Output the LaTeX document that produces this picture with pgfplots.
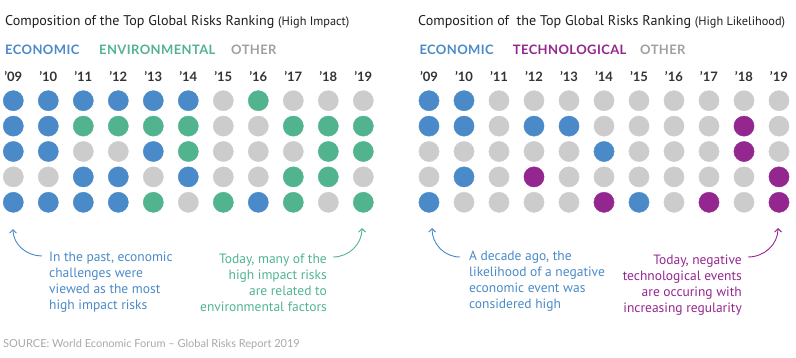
\documentclass[border=0pt]{standalone}
\usepackage{pgfplots}
\pgfplotsset{compat=1.18}
\usetikzlibrary{arrows.meta}
\usepackage{fontspec}
\setmainfont{Lato}
\newfontfamily\annfont{PT Sans}
\definecolor{econ}{HTML}{4A8AC9}
\definecolor{envi}{HTML}{52B48E}
\definecolor{tech}{HTML}{93278F}
\definecolor{othr}{HTML}{CCCCCC}
\definecolor{othtxt}{HTML}{A0A0A0}
\definecolor{srctxt}{HTML}{A8A8A8}
\definecolor{ttl}{HTML}{1E1E1E}
\definecolor{yrs}{HTML}{333333}
\pgfplotsset{
  dotgrid/.style={
    scale only axis, width=376.6pt, height=127pt,
    xmin=2008.62, xmax=2019.38, ymin=0.5, ymax=5.5, y dir=reverse,
    clip=false, axis line style={draw=none}, major tick length=0pt,
    ymajorticks=false, xtick pos=upper, xticklabel pos=upper,
    xtick={2009,...,2019},
    xticklabels={’09,’10,’11,’12,’13,’14,’15,’16,’17,’18,’19},
    xticklabel style={anchor=base, inner sep=0pt, yshift=7pt,
      font=\fontsize{13}{13}\selectfont\bfseries, text=yrs},
  },
  dots/.style={only marks, mark=*, mark size=10.1pt, color=#1, mark options={draw=none, fill=#1}},
}
\begin{document}
\begin{tikzpicture}[x=1pt,y=1pt]
\path[use as bounding box] (0,0) rectangle (796,357);
% ---------- left grid (High Impact)
\begin{axis}[dotgrid, at={(0pt,142pt)}, anchor=south west]
\addplot[dots=econ] coordinates {
 (2009,1) (2009,2) (2009,3) (2009,5)
 (2010,1) (2010,2) (2010,3) (2010,5)
 (2011,1) (2011,4) (2011,5)
 (2012,1) (2012,4) (2012,5)
 (2013,1) (2013,3)
 (2014,1) (2014,4)
 (2016,5)};
\addplot[dots=envi] coordinates {
 (2011,2) (2012,2) (2013,2) (2013,5) (2014,2) (2014,3) (2015,5) (2016,1)
 (2017,2) (2017,4) (2017,5) (2018,2) (2018,3) (2018,4) (2019,2) (2019,3) (2019,5)};
\addplot[dots=othr] coordinates {
 (2009,4) (2010,4) (2011,3) (2012,3) (2013,4) (2014,5)
 (2015,1) (2015,2) (2015,3) (2015,4)
 (2016,2) (2016,3) (2016,4)
 (2017,1) (2017,3) (2018,1) (2018,5) (2019,1) (2019,4)};
\end{axis}
% ---------- right grid (High Likelihood)
\begin{axis}[dotgrid, at={(415.7pt,142pt)}, anchor=south west]
\addplot[dots=econ] coordinates {
 (2009,1) (2009,2) (2009,5)
 (2010,1) (2010,2) (2010,4)
 (2012,2) (2013,2) (2014,3) (2015,5)};
\addplot[dots=tech] coordinates {
 (2012,4) (2014,5) (2017,5) (2018,2) (2018,3) (2019,4) (2019,5)};
\addplot[dots=othr] coordinates {
 (2009,3) (2009,4) (2010,3) (2010,5)
 (2011,1) (2011,2) (2011,3) (2011,4) (2011,5)
 (2012,1) (2012,3) (2012,5)
 (2013,1) (2013,3) (2013,4) (2013,5)
 (2014,1) (2014,2) (2014,4)
 (2015,1) (2015,2) (2015,3) (2015,4)
 (2016,1) (2016,2) (2016,3) (2016,4) (2016,5)
 (2017,1) (2017,2) (2017,3) (2017,4)
 (2018,1) (2018,4) (2018,5)
 (2019,1) (2019,2) (2019,3)};
\end{axis}
% ---------- titles
\node[anchor=base west, inner sep=0pt, text=ttl] at (5,331.3)
  {\annfont\fontsize{14.1}{14.1}\selectfont Composition of the Top Global Risks Ranking {\fontsize{12.3}{12.3}\selectfont(High Impact)}};
\node[anchor=base west, inner sep=0pt, text=ttl] at (418,331.3)
  {\annfont\fontsize{14.1}{14.1}\selectfont Composition of\ \ the Top Global Risks Ranking {\fontsize{12.3}{12.3}\selectfont(High Likelihood)}};
% ---------- legends
\begingroup
\def\lg#1#2#3{\node[anchor=base west, inner sep=0pt, text=#3] at (#1,302.7)
  {\fontsize{13}{13}\selectfont\bfseries\addfontfeature{LetterSpace=3}#2};}
\lg{5}{ECONOMIC}{econ}
\lg{99}{ENVIRONMENTAL}{envi}
\lg{231}{OTHER}{othtxt}
\lg{419.3}{ECONOMIC}{econ}
\lg{512.7}{TECHNOLOGICAL}{tech}
\lg{640}{OTHER}{othtxt}
\endgroup
% ---------- annotations
\begingroup
\def\al#1#2#3#4{\node[anchor=base west, inner sep=0pt, text=#3] at (#1,#2)
  {\annfont\fontsize{13.5}{13.5}\selectfont #4};}
\def\ar#1#2#3#4{\node[anchor=base east, inner sep=0pt, text=#3] at (#1,#2)
  {\annfont\fontsize{13.5}{13.5}\selectfont #4};}
\al{49}{96}{econ}{In the past, economic}
\al{49}{80}{econ}{challenges were}
\al{49}{64}{econ}{viewed as the most}
\al{49}{48}{econ}{high impact risks}
\ar{327}{93.7}{envi}{Today, many of the}
\ar{327}{77.7}{envi}{high impact risks}
\ar{327}{61.7}{envi}{are related to}
\ar{327}{45.7}{envi}{environmental factors}
\al{469}{96.3}{econ}{A decade ago, the}
\al{469}{80.3}{econ}{likelihood of a negative}
\al{469}{64.3}{econ}{economic event was}
\al{469}{48.3}{econ}{considered high}
\ar{742}{93}{tech}{Today, negative}
\ar{742}{77}{tech}{technological events}
\ar{742}{61}{tech}{are occuring with}
\ar{742}{45}{tech}{increasing regularity}
\endgroup
% ---------- arrows
\draw[econ, line width=0.9pt, -{Straight Barb[length=3.5pt,width=7pt]}] (42,101) to[out=180,in=-90] (13,128);
\draw[envi, line width=0.9pt, -{Straight Barb[length=3.5pt,width=7pt]}] (333,100) to[out=0,in=-90] (362,129);
\draw[econ, line width=0.9pt, -{Straight Barb[length=3.5pt,width=7pt]}] (460,100) to[out=180,in=-90] (432,129);
\draw[tech, line width=0.9pt, -{Straight Barb[length=3.5pt,width=7pt]}] (748,100) to[out=0,in=-90] (778,129);
% ---------- source
\node[anchor=base west, inner sep=0pt, text=srctxt] at (3,9.5)
  {\fontsize{11}{11}\selectfont SOURCE: World Economic Forum -- Global Risks Report 2019};
\end{tikzpicture}
\end{document}
